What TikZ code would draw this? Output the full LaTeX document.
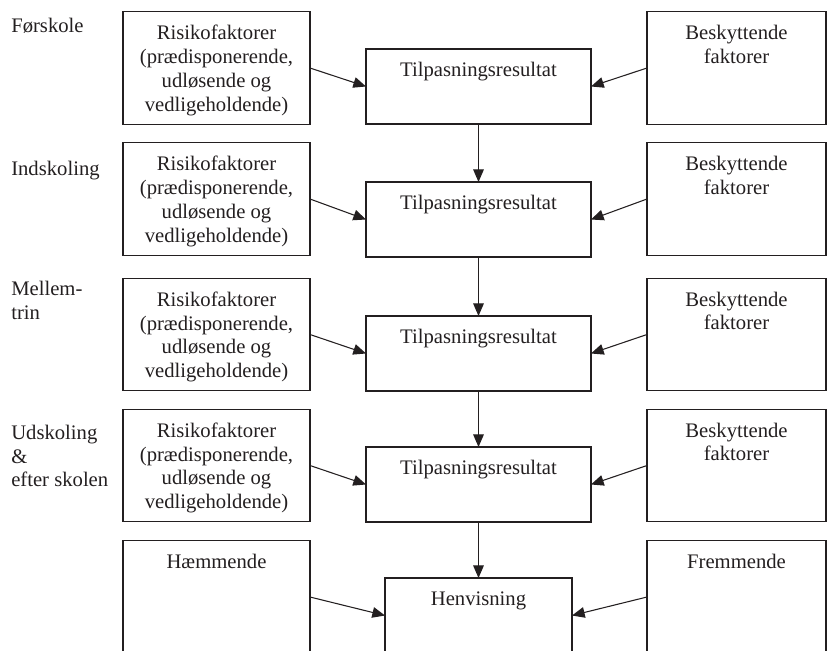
\documentclass[tikz,border=0pt]{standalone}
\usepackage{fontspec}
\setmainfont{Liberation Serif}
\usetikzlibrary{arrows.meta}
\definecolor{ink}{RGB}{35,31,32}
\begin{document}
\begin{tikzpicture}[x=0.75pt,y=-0.75pt,
  frame/.style={draw=ink,line width=0.8pt,inner sep=0pt,outer sep=0pt},
  leftbox/.style={frame,minimum width=140.25pt,minimum height=84.4pt},
  rightbox/.style={frame,minimum width=134.25pt,minimum height=84.4pt},
  midbox/.style={frame,minimum width=168.75pt,minimum height=56.25pt},
  refbox/.style={frame,minimum width=140.25pt,minimum height=56.25pt},
  txt/.style={text=ink,font=\fontsize{15.5}{17.8}\selectfont,align=center,inner sep=0pt,anchor=north,yshift=-10pt},
  stage/.style={text=ink,font=\fontsize{15.5}{17.6}\selectfont,align=left,inner sep=0pt,anchor=north west},
  arr/.style={draw=ink,line width=0.8pt,-{Triangle[length=9.5pt,width=8pt]}}]
\clip (0,0) rectangle (827,650);
\foreach \i/\y/\m in {1/68/86.5,2/199/219.5,3/334.5/353.5,4/465.5/484.5}{
  \node[leftbox] (L\i) at (216.5,\y) {};
  \node[rightbox] (R\i) at (736.5,\y) {};
  \node[midbox] (M\i) at (478.5,\m) {};
  \node[txt] (tL\i) at (L\i.north) {Risikofaktorer\\(prædisponerende,\\udløsende og\\vedligeholdende)};
  \node[txt] (tR\i) at (R\i.north) {Beskyttende\\faktorer};
  \node[txt] (tM\i) at (M\i.north) {Tilpasningsresultat};
  \draw[arr] (L\i.east) -- (M\i.west);
  \draw[arr] (R\i.west) -- (M\i.east);
}
\node[leftbox] (L5) at (216.5,597) {};
\node[rightbox] (R5) at (736.5,597) {};
\node[refbox] (H) at (478.5,615.5) {};
\node[txt] (tL5) at (L5.north) {Hæmmende};
\node[txt] (tR5) at (R5.north) {Fremmende};
\node[txt] (tH) at (H.north) {Henvisning};
\draw[arr] (L5.east) -- (H.west);
\draw[arr] (R5.west) -- (H.east);
\draw[arr] (M1.south) -- (M2.north);
\draw[arr] (M2.south) -- (M3.north);
\draw[arr] (M3.south) -- (M4.north);
\draw[arr] (M4.south) -- (H.north);
\node[stage] (s1) at (11,18) {Førskole};
\node[stage] (s2) at (11,161) {Indskoling};
\node[stage] (s3) at (11,281) {Mellem-\\trin};
\node[stage] (s4) at (11,425) {Udskoling\\\&\\efter skolen};
\end{tikzpicture}
\end{document}
